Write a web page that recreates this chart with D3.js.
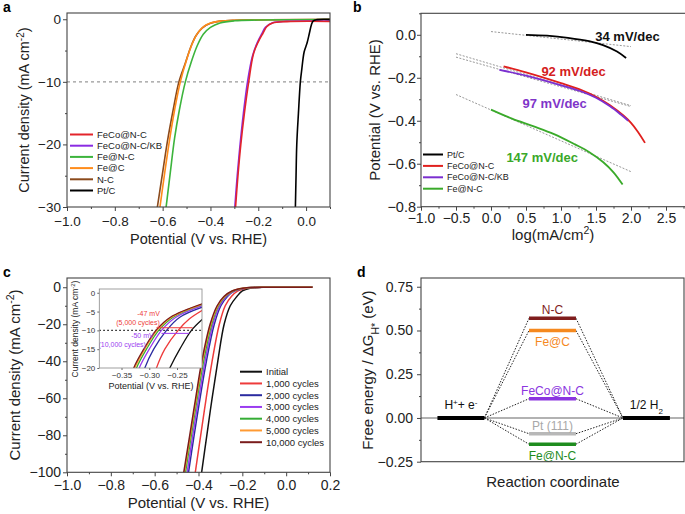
<!DOCTYPE html>
<html>
<head>
<meta charset="utf-8">
<script src="https://cdn.jsdelivr.net/npm/d3@7"></script>
<style>
  body { margin: 0; background: #fff; }
  svg { font-family: "Liberation Sans", Arial, sans-serif; }
</style>
</head>
<body>
<svg id="fig" width="685" height="514"></svg>
<script>
// ---- panel a: LSV curves [potential V, current mA/cm2]
const lsvNames = ["FeCo@N-C", "FeCo@N-C/KB", "Fe@N-C", "Fe@C", "N-C", "Pt/C"];
const lsvColors = ["#e3242b", "#8a2be2", "#3cb43c", "#ff8c1a", "#8b4a1c", "#000000"];
const lsvFeCoNC = [[0.1,-0.35],[-0.08,-0.38],[-0.14,-0.6],[-0.165,-1.2],[-0.18,-2.2],[-0.2,-3.6],[-0.22,-5.5],[-0.24,-10],[-0.258,-15],[-0.273,-20],[-0.285,-25],[-0.296,-30.5]];
const lsvFeCoNCKB = [[0.1,-0.3],[-0.08,-0.33],[-0.14,-0.55],[-0.17,-1.3],[-0.185,-2.3],[-0.205,-3.8],[-0.225,-6],[-0.245,-10],[-0.262,-15],[-0.276,-20],[-0.288,-25],[-0.299,-30.5]];
const lsvFeNC = [[0.1,-0.05],[-0.2,-0.12],[-0.3,-0.25],[-0.36,-0.6],[-0.4,-1.3],[-0.43,-2.4],[-0.455,-4.2],[-0.48,-6.8],[-0.505,-10],[-0.53,-14.5],[-0.55,-19],[-0.568,-24.5],[-0.587,-30.5]];
const lsvFeC = [[0.1,-0.05],[-0.3,-0.15],[-0.36,-0.3],[-0.4,-0.6],[-0.43,-1.2],[-0.455,-2.3],[-0.475,-3.8],[-0.5,-6.5],[-0.526,-10],[-0.55,-14.5],[-0.572,-19.5],[-0.593,-25],[-0.613,-30.5]];
const lsvNC = [[0.1,-0.05],[-0.3,-0.15],[-0.36,-0.3],[-0.4,-0.65],[-0.435,-1.4],[-0.46,-2.6],[-0.48,-4.2],[-0.505,-7],[-0.532,-10],[-0.556,-14.5],[-0.58,-19.5],[-0.602,-25],[-0.624,-30.5]];
const lsvPtC = [[0.1,-0.02],[0.045,-0.06],[0.03,-0.25],[0.022,-0.9],[0.014,-2.2],[0.004,-3.8],[-0.008,-5.2],[-0.018,-8],[-0.024,-10],[-0.032,-15],[-0.039,-20],[-0.042,-25],[-0.045,-30.5]];
const lsvRef = -10;

// ---- panel b: Tafel [log j, potential V]
const tafelNames = ["Pt/C", "FeCo@N-C", "FeCo@N-C/KB", "Fe@N-C"];
const tafelColors = ["#000000", "#e0201e", "#7b2fd0", "#3aaa2a"];
const tafelPtC = [[0.5,0.0],[0.8,-0.004],[1.1,-0.014],[1.4,-0.03],[1.6,-0.048],[1.8,-0.078],[1.93,-0.108]];
const tafelFeCoNC = [[0.18,-0.147],[0.5,-0.175],[1.0,-0.225],[1.3,-0.258],[1.5,-0.288],[1.7,-0.328],[1.9,-0.378],[2.0,-0.41],[2.1,-0.452],[2.2,-0.503]];
const tafelFeCoNCKB = [[0.12,-0.163],[0.5,-0.19],[1.0,-0.235],[1.3,-0.265],[1.5,-0.293],[1.7,-0.333],[1.85,-0.37],[1.96,-0.4]];
const tafelFeNC = [[0.0,-0.348],[0.3,-0.39],[0.6,-0.425],[0.9,-0.462],[1.2,-0.51],[1.4,-0.545],[1.6,-0.592],[1.75,-0.64],[1.88,-0.697]];
const tafelFits = [[[0.0,0.015],[2.0,-0.055]], [[-0.5,-0.104],[2.0,-0.334]], [[-0.5,-0.088],[2.0,-0.33]], [[-0.5,-0.278],[2.0,-0.637]]];
const tafelSlopes = ["34 mV/dec", "92 mV/dec", "97 mV/dec", "147 mV/dec"];
const tafelSlopePos = [[1.49,-0.031],[0.72,-0.191],[0.45,-0.34],[0.22,-0.59]];
const tafelSlopeColors = ["#111111", "#d42020", "#7f35c9", "#3aa82a"];

// ---- panel c: stability LSV [potential V, current mA/cm2]
const cycleNames = ["Initial", "1,000 cycles", "2,000 cycles", "3,000 cycles", "4,000 cycles", "5,000 cycles", "10,000 cycles"];
const cycleColors = ["#111111", "#ee3b3b", "#2b2ba0", "#9a3cf0", "#35ad35", "#ff9a33", "#7a1c1c"];
const cycInitial = [[0.12,0],[-0.1,0],[-0.13,-0.1],[-0.165,-0.5],[-0.2,-2],[-0.225,-5],[-0.255,-10],[-0.283,-20],[-0.312,-40],[-0.338,-60],[-0.362,-80],[-0.388,-102]];
const cyc1000 = [[0.12,0],[-0.1,0],[-0.14,-0.1],[-0.18,-0.5],[-0.22,-2],[-0.25,-5],[-0.278,-10],[-0.305,-20],[-0.338,-40],[-0.365,-60],[-0.39,-80],[-0.417,-102]];
const cyc2000 = [[0.12,0],[-0.1,0],[-0.145,-0.1],[-0.19,-0.5],[-0.235,-2],[-0.268,-5],[-0.298,-10],[-0.328,-20],[-0.364,-40],[-0.393,-60],[-0.42,-80],[-0.448,-102]];
const cyc3000 = [[0.12,0],[-0.1,0],[-0.147,-0.1],[-0.192,-0.5],[-0.238,-2],[-0.273,-5],[-0.303,-10],[-0.334,-20],[-0.37,-40],[-0.399,-60],[-0.426,-80],[-0.454,-102]];
const cyc4000 = [[0.12,0],[-0.1,0],[-0.148,-0.1],[-0.195,-0.5],[-0.242,-2],[-0.278,-5],[-0.309,-10],[-0.34,-20],[-0.377,-40],[-0.406,-60],[-0.433,-80],[-0.462,-102]];
const cyc5000 = [[0.12,0],[-0.1,0],[-0.15,-0.1],[-0.197,-0.5],[-0.245,-2],[-0.281,-5],[-0.312,-10],[-0.344,-20],[-0.382,-40],[-0.41,-60],[-0.437,-80],[-0.467,-102]];
const cyc10000 = [[0.12,0],[-0.1,0],[-0.15,-0.1],[-0.198,-0.5],[-0.247,-2],[-0.284,-5],[-0.315,-10],[-0.347,-20],[-0.385,-40],[-0.413,-60],[-0.44,-80],[-0.47,-102]];
// inset (zoom near -10 mA/cm2)
const insInitial = [[-0.266,-21],[-0.263,-20],[-0.245,-15],[-0.224,-10],[-0.2,-6.5]];
const ins1000 = [[-0.289,-21],[-0.287,-20],[-0.272,-15],[-0.248,-10],[-0.228,-7],[-0.2,-4.3]];
const ins2000 = [[-0.31,-21],[-0.308,-20],[-0.292,-15],[-0.269,-10],[-0.245,-6.5],[-0.2,-3.6]];
const ins3000 = [[-0.32,-21],[-0.318,-20],[-0.3,-15],[-0.278,-10],[-0.252,-6.5],[-0.2,-3.2]];
const ins4000 = [[-0.325,-21],[-0.323,-20],[-0.305,-15],[-0.283,-10],[-0.257,-6.5],[-0.2,-2.9]];
const ins5000 = [[-0.328,-21],[-0.326,-20],[-0.308,-15],[-0.286,-10],[-0.26,-6.5],[-0.2,-2.8]];
const ins10000 = [[-0.33,-21],[-0.328,-20],[-0.31,-15],[-0.288,-10],[-0.262,-6.5],[-0.2,-2.7]];
const insShiftMarks = [[-9.3,-0.287,-0.222], [-10.8,-0.278,-0.228]];
const insShiftColors = ["#ee3b3b", "#9a3cf0"];
const insNotes = ["-47 mV", "(5,000 cycles)", "-50 mV", "(10,000 cycles)"];
const insNotePos = [[-0.281,-6.3],[-0.281,-8.6],[-0.292,-11.9],[-0.306,-14.4]];
const insNoteColors = ["#ee3b3b", "#ee3b3b", "#9a3cf0", "#9a3cf0"];

// ---- panel d: free energy diagram
const energyNames = ["N-C", "Fe@C", "FeCo@N-C", "Pt (111)", "Fe@N-C"];
const energyValues = [0.57, 0.50, 0.11, -0.09, -0.15];
const energyColors = ["#7f1d1d", "#f5891f", "#8b35e0", "#b8b8b8", "#1e8c1e"];
const energyLabelColors = ["#7f1d1d", "#f5891f", "#8b35e0", "#a8a8a8", "#1e8c1e"];
const energyLabelAbove = [true, false, true, true, false];
const stepStart = [0.35, 1.35];   // H+ + e-
const stepMid = [2.3, 3.3];       // H*
const stepEnd = [4.3, 5.3];       // 1/2 H2

const svg = d3.select("#fig");
const axisColor = "#444";

function line(x, y) {
  return d3.line().x(d => x(d[0])).y(d => y(d[1])).curve(d3.curveCatmullRom.alpha(0.5));
}

function drawFrame(g, x, y, o) {
  const [x0, x1] = x.range();
  const [y0, y1] = y.range();
  const fs = o.fontSize;
  if (o.xTicks) {
    const ax = g.append("g").attr("transform", `translate(0,${y0})`)
      .call(d3.axisBottom(x).tickValues(o.xTicks).tickSize(4).tickPadding(o.xPad).tickFormat(o.xFmt));
    ax.select(".domain").remove();
    ax.selectAll("line").attr("stroke", axisColor);
    ax.selectAll("text").attr("font-size", o.xFontSize || fs).attr("fill", "#222").attr("font-family", null);
    if (o.xMinor) {
      const mx = g.append("g").attr("transform", `translate(0,${y0})`)
        .call(d3.axisBottom(x).tickValues(o.xMinor).tickSize(2).tickFormat(""));
      mx.select(".domain").remove();
      mx.selectAll("line").attr("stroke", axisColor);
    }
  }
  const ay = g.append("g").attr("transform", `translate(${x0},0)`)
    .call(d3.axisLeft(y).tickValues(o.yTicks).tickSize(4).tickPadding(o.yPad).tickFormat(o.yFmt));
  ay.select(".domain").remove();
  ay.selectAll("line").attr("stroke", axisColor);
  ay.selectAll("text").attr("font-size", fs).attr("fill", "#222").attr("font-family", null);
  if (o.yMinor) {
    const my = g.append("g").attr("transform", `translate(${x0},0)`)
      .call(d3.axisLeft(y).tickValues(o.yMinor).tickSize(2).tickFormat(""));
    my.select(".domain").remove();
    my.selectAll("line").attr("stroke", axisColor);
  }
  g.append("rect").attr("x", x0).attr("y", y1).attr("width", x1 - x0).attr("height", y0 - y1)
    .attr("fill", "none").attr("stroke", axisColor).attr("stroke-width", 1.1);
}

function clipFor(id, x, y) {
  const [x0, x1] = x.range();
  const [y0, y1] = y.range();
  svg.append("clipPath").attr("id", id).append("rect")
    .attr("x", x0).attr("y", y1).attr("width", x1 - x0).attr("height", y0 - y1);
  return `url(#${id})`;
}

function panelLetter(t, px, py) {
  svg.append("text").attr("x", px).attr("y", py).attr("font-size", 14).attr("font-weight", "bold").text(t);
}

function yTitle(g, cx, cy, fs, parts) {
  const t = g.append("text").attr("transform", `translate(${cx},${cy}) rotate(-90)`)
    .attr("text-anchor", "middle").attr("font-size", fs).attr("fill", "#222").attr("dy", "0.35em");
  parts.forEach(p => {
    const s = t.append("tspan").text(p[0]);
    if (p[1] === "sup") s.attr("font-size", fs * 0.7).attr("baseline-shift", "super");
    if (p[1] === "sub") s.attr("font-size", fs * 0.7).attr("baseline-shift", "sub");
  });
  return t;
}

function legend(g, names, colors, lx, ly, step, fs, len) {
  names.forEach((n, i) => {
    const yy = ly + i * step;
    g.append("line").attr("x1", lx).attr("x2", lx + len).attr("y1", yy).attr("y2", yy)
      .attr("stroke", colors[i]).attr("stroke-width", 2);
    g.append("text").attr("x", lx + len + 4).attr("y", yy).attr("dy", "0.35em")
      .attr("font-size", fs).attr("fill", "#222").text(n);
  });
}

const f1 = d3.format(".1f"), f0 = d3.format("d"), f2 = d3.format(".2f");

// ================= panel a
{
  const g = svg.append("g");
  const x = d3.scaleLinear().domain([-1.0, 0.1]).range([67, 330]);
  const y = d3.scaleLinear().domain([-30, 1]).range([207, 13]);
  const clip = clipFor("clipA", x, y);
  g.append("line").attr("x1", x(-1.0)).attr("x2", x(0.1)).attr("y1", y(lsvRef)).attr("y2", y(lsvRef))
    .attr("stroke", "#999").attr("stroke-dasharray", "3,3").attr("stroke-width", 1.2);
  const series = [lsvFeCoNC, lsvFeCoNCKB, lsvFeNC, lsvFeC, lsvNC, lsvPtC];
  const cg = g.append("g").attr("clip-path", clip);
  [4, 3, 2, 1, 0, 5].forEach(i => {
    cg.append("path").attr("d", line(x, y)(series[i])).attr("fill", "none")
      .attr("stroke", lsvColors[i]).attr("stroke-width", 1.6);
  });
  drawFrame(g, x, y, {
    fontSize: 13.5, xTicks: [-1.0, -0.8, -0.6, -0.4, -0.2, 0.0], xMinor: [-0.9, -0.7, -0.5, -0.3, -0.1, 0.1],
    xFmt: f1, xPad: 5, yTicks: [-30, -20, -10, 0], yMinor: [-25, -15, -5], yFmt: f0, yPad: 2
  });
  legend(g, lsvNames, lsvColors, 70, 134.5, 11.2, 9.5, 23);
  g.append("text").attr("x", 198.5).attr("y", 244).attr("text-anchor", "middle").attr("font-size", 14.5)
    .attr("fill", "#222").text("Potential (V vs. RHE)");
  yTitle(g, 24, 110, 14.5, [["Current density (mA cm"], ["-2", "sup"], [")"]]);
  panelLetter("a", 3, 12);
}

// ================= panel b
{
  const g = svg.append("g");
  const x = d3.scaleLinear().domain([-1.0, 2.8]).range([421, 687]);
  const y = d3.scaleLinear().domain([-0.8, 0.1]).range([206.7, 13.3]);
  tafelFits.forEach(f => {
    g.append("path").attr("d", d3.line().x(d => x(d[0])).y(d => y(d[1]))(f)).attr("fill", "none")
      .attr("stroke", "#999").attr("stroke-width", 1).attr("stroke-dasharray", "2,1.5");
  });
  const series = [tafelPtC, tafelFeCoNC, tafelFeCoNCKB, tafelFeNC];
  series.forEach((s, i) => {
    g.append("path").attr("d", line(x, y)(s)).attr("fill", "none")
      .attr("stroke", tafelColors[i]).attr("stroke-width", 1.8);
  });
  tafelSlopes.forEach((t, i) => {
    g.append("text").attr("x", x(tafelSlopePos[i][0])).attr("y", y(tafelSlopePos[i][1]))
      .attr("font-size", 13).attr("font-weight", "bold").attr("fill", tafelSlopeColors[i]).text(t);
  });
  drawFrame(g, x, y, {
    fontSize: 14.5, xFontSize: 14, xTicks: [-1.0, -0.5, 0.0, 0.5, 1.0, 1.5, 2.0, 2.5], xMinor: [-0.75, -0.25, 0.25, 0.75, 1.25, 1.75, 2.25, 2.75],
    xFmt: f1, xPad: 2, yTicks: [-0.8, -0.6, -0.4, -0.2, 0.0], yMinor: [-0.7, -0.5, -0.3, -0.1, 0.1], yFmt: f1, yPad: 1
  });
  legend(g, tafelNames, tafelColors, 423, 154.5, 11.4, 9, 20);
  const xt = g.append("text").attr("x", 553).attr("y", 239.5).attr("text-anchor", "middle").attr("font-size", 15).attr("fill", "#222");
  xt.append("tspan").text("log(mA/cm");
  xt.append("tspan").text("2").attr("font-size", 10.5).attr("baseline-shift", "super");
  xt.append("tspan").text(")");
  yTitle(g, 375, 110, 15, [["Potential (V vs. RHE)"]]);
  panelLetter("b", 353, 12);
}

// ================= panel c
{
  const g = svg.append("g");
  const x = d3.scaleLinear().domain([-1.0, 0.2]).range([67, 330]);
  const y = d3.scaleLinear().domain([-100, 5]).range([472.3, 278]);
  const clip = clipFor("clipC", x, y);
  const series = [cycInitial, cyc1000, cyc2000, cyc3000, cyc4000, cyc5000, cyc10000];
  const cg = g.append("g").attr("clip-path", clip);
  [0, 1, 2, 3, 4, 5, 6].forEach(i => {
    cg.append("path").attr("d", line(x, y)(series[i])).attr("fill", "none")
      .attr("stroke", cycleColors[i]).attr("stroke-width", 1.5);
  });
  drawFrame(g, x, y, {
    fontSize: 14, xTicks: [-1.0, -0.8, -0.6, -0.4, -0.2, 0.0, 0.2], xMinor: [-0.9, -0.7, -0.5, -0.3, -0.1, 0.1],
    xFmt: f1, xPad: 4, yTicks: [-100, -80, -60, -40, -20, 0], yMinor: [-90, -70, -50, -30, -10], yFmt: f0, yPad: 2
  });
  legend(g, cycleNames, cycleColors, 240, 371.7, 11.75, 9.5, 22);
  g.append("text").attr("x", 198.5).attr("y", 508).attr("text-anchor", "middle").attr("font-size", 15)
    .attr("fill", "#222").text("Potential (V vs. RHE)");
  yTitle(g, 15, 375, 15, [["Current density (mA cm"], ["-2", "sup"], [")"]]);
  panelLetter("c", 3, 277);

  // inset
  const ix = d3.scaleLinear().domain([-0.39, -0.205]).range([99.3, 202]);
  const iy = d3.scaleLinear().domain([-20, 1]).range([368, 289]);
  g.append("rect").attr("x", 99.3).attr("y", 289).attr("width", 202 - 99.3).attr("height", 368 - 289).attr("fill", "#fff");
  const iclip = clipFor("clipI", ix, iy);
  const ig = g.append("g").attr("clip-path", iclip);
  ig.append("line").attr("x1", ix(-0.39)).attr("x2", ix(-0.205)).attr("y1", iy(-10)).attr("y2", iy(-10))
    .attr("stroke", "#111").attr("stroke-width", 1.3).attr("stroke-dasharray", "1.5,2.5");
  const iseries = [insInitial, ins1000, ins2000, ins3000, ins4000, ins5000, ins10000];
  iseries.forEach((s, i) => {
    ig.append("path").attr("d", line(ix, iy)(s)).attr("fill", "none")
      .attr("stroke", cycleColors[i]).attr("stroke-width", 1.3);
  });
  insShiftMarks.forEach((m, i) => {
    ig.append("line").attr("x1", ix(m[1])).attr("x2", ix(m[2])).attr("y1", iy(m[0])).attr("y2", iy(m[0]))
      .attr("stroke", insShiftColors[i]).attr("stroke-width", 1);
  });
  insNotes.forEach((t, i) => {
    ig.append("text").attr("x", ix(insNotePos[i][0])).attr("y", iy(insNotePos[i][1]))
      .attr("text-anchor", "end").attr("font-size", 7).attr("fill", insNoteColors[i]).text(t);
  });
  const ia = g.append("g");
  const axX = ia.append("g").attr("transform", "translate(0,368)")
    .call(d3.axisBottom(ix).tickValues([-0.35, -0.30, -0.25]).tickSize(2).tickPadding(2).tickFormat(f2));
  const axY = ia.append("g").attr("transform", "translate(99.3,0)")
    .call(d3.axisLeft(iy).tickValues([-20, -15, -10, -5, 0]).tickSize(2).tickPadding(2).tickFormat(f0));
  [axX, axY].forEach(a => {
    a.select(".domain").remove();
    a.selectAll("line").attr("stroke", "#666");
    a.selectAll("text").attr("font-size", 8).attr("fill", "#333").attr("font-family", null);
  });
  ia.append("rect").attr("x", 99.3).attr("y", 289).attr("width", 202 - 99.3).attr("height", 368 - 289)
    .attr("fill", "none").attr("stroke", "#888").attr("stroke-width", 0.8);
  ia.append("text").attr("x", 151).attr("y", 389).attr("text-anchor", "middle").attr("font-size", 9)
    .attr("fill", "#222").text("Potential (V vs. RHE)");
  yTitle(ia, 75, 329, 8.5, [["Current density (mA cm"], ["-2", "sup"], [")"]]);
}

// ================= panel d
{
  const g = svg.append("g");
  const x = d3.scaleLinear().domain([0, 5.6]).range([421, 684]);
  const y = d3.scaleLinear().domain([-0.25, 0.8]).range([461.7, 278]);
  g.append("line").attr("x1", x(0)).attr("x2", x(5.6)).attr("y1", y(0)).attr("y2", y(0))
    .attr("stroke", "#999").attr("stroke-width", 1.5);
  energyValues.forEach((v, i) => {
    g.append("path").attr("d", d3.line()([[x(stepStart[1]), y(0)], [x(stepMid[0]), y(v)]]))
      .attr("stroke", "#222").attr("stroke-width", 1).attr("stroke-dasharray", "1.5,1.5").attr("fill", "none");
    g.append("path").attr("d", d3.line()([[x(stepMid[1]), y(v)], [x(stepEnd[0]), y(0)]]))
      .attr("stroke", "#222").attr("stroke-width", 1).attr("stroke-dasharray", "1.5,1.5").attr("fill", "none");
  });
  [stepStart, stepEnd].forEach(s => {
    g.append("line").attr("x1", x(s[0])).attr("x2", x(s[1])).attr("y1", y(0)).attr("y2", y(0))
      .attr("stroke", "#000").attr("stroke-width", 4);
  });
  energyValues.forEach((v, i) => {
    g.append("line").attr("x1", x(stepMid[0])).attr("x2", x(stepMid[1])).attr("y1", y(v)).attr("y2", y(v))
      .attr("stroke", energyColors[i]).attr("stroke-width", 3.5);
    g.append("text").attr("x", x((stepMid[0] + stepMid[1]) / 2))
      .attr("y", y(v) + (energyLabelAbove[i] ? -4 : 16))
      .attr("text-anchor", "middle").attr("font-size", 12).attr("fill", energyLabelColors[i])
      .text(energyNames[i]);
  });
  const hl = g.append("text").attr("x", x((stepStart[0] + stepStart[1]) / 2)).attr("y", y(0) - 9)
    .attr("text-anchor", "middle").attr("font-size", 12).attr("fill", "#111");
  hl.append("tspan").text("H");
  hl.append("tspan").text("+").attr("font-size", 8).attr("baseline-shift", "super");
  hl.append("tspan").text("+ e");
  hl.append("tspan").text("-").attr("font-size", 8).attr("baseline-shift", "super");
  const hr = g.append("text").attr("x", x((stepEnd[0] + stepEnd[1]) / 2)).attr("y", y(0) - 9)
    .attr("text-anchor", "middle").attr("font-size", 12).attr("fill", "#111");
  hr.append("tspan").text("1/2 H");
  hr.append("tspan").text("2").attr("font-size", 8).attr("baseline-shift", "sub");
  drawFrame(g, x, y, {
    fontSize: 14, yTicks: [-0.25, 0, 0.25, 0.5, 0.75], yMinor: [-0.125, 0.125, 0.375, 0.625], yFmt: f2, yPad: 4
  });
  g.append("text").attr("x", 553).attr("y", 487).attr("text-anchor", "middle").attr("font-size", 15)
    .attr("fill", "#222").text("Reaction coordinate");
  yTitle(g, 368, 370, 15, [["Free energy / ΔG"], ["H*", "sub"], [" (eV)"]]);
  panelLetter("d", 357, 277);
}
</script>
</body>
</html>
